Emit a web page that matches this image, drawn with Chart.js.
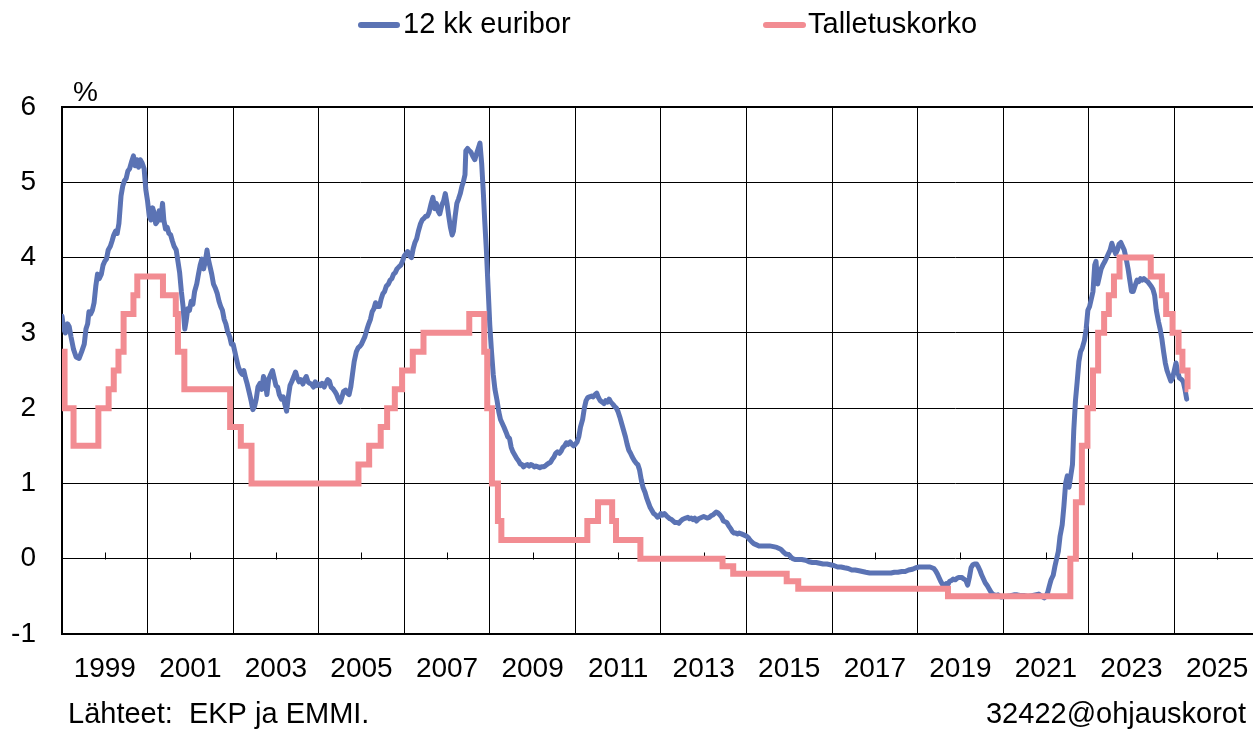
<!DOCTYPE html>
<html><head><meta charset="utf-8">
<script src="https://cdn.jsdelivr.net/npm/chart.js@4.4.1/dist/chart.umd.min.js"></script>
<style>html,body{margin:0;padding:0;background:#fff;overflow:hidden}canvas{display:block}</style>
</head><body>
<canvas id="c" width="1253" height="731"></canvas>
<script>
const seriesNames = ['12 kk euribor', 'Talletuskorko'];
const unitLabel = '%';
const sourceText = 'Lähteet:  EKP ja EMMI.';
const codeText = '32422@ohjauskorot';

// 12 kk euribor (decimal year, %)
const euriborTime = [
 1999.00,1999.04,1999.08,1999.13,1999.17,1999.21,1999.27,1999.33,1999.40,1999.46,1999.52,1999.56,1999.60,1999.63,1999.67,1999.71,1999.75,1999.79,1999.83,1999.87,1999.92,1999.96,
 2000.00,2000.04,2000.08,2000.13,2000.17,2000.21,2000.25,2000.29,2000.33,2000.38,2000.42,2000.46,2000.50,2000.54,2000.58,2000.63,2000.67,2000.71,2000.75,2000.79,2000.83,2000.87,2000.92,2000.96,
 2001.00,2001.04,2001.08,2001.12,2001.15,2001.19,2001.23,2001.27,2001.31,2001.35,2001.38,2001.42,2001.46,2001.50,2001.54,2001.58,2001.62,2001.67,2001.71,2001.75,2001.79,2001.83,2001.87,2001.90,2001.94,2001.98,
 2002.02,2002.06,2002.10,2002.15,2002.19,2002.23,2002.27,2002.31,2002.35,2002.39,2002.42,2002.46,2002.50,2002.54,2002.58,2002.63,2002.67,2002.71,2002.75,2002.79,2002.83,2002.87,2002.92,2002.96,
 2003.00,2003.04,2003.08,2003.12,2003.17,2003.21,2003.25,2003.29,2003.33,2003.38,2003.42,2003.46,2003.50,2003.54,2003.58,2003.63,2003.67,2003.71,2003.75,2003.79,2003.83,2003.88,2003.92,2003.96,
 2004.00,2004.04,2004.08,2004.13,2004.17,2004.21,2004.25,2004.29,2004.33,2004.37,2004.42,2004.46,2004.50,2004.54,2004.58,2004.63,2004.67,2004.71,2004.75,2004.79,2004.83,2004.88,2004.92,2004.96,
 2005.00,2005.04,2005.08,2005.13,2005.17,2005.21,2005.25,2005.29,2005.33,2005.38,2005.42,2005.46,2005.50,2005.54,2005.58,2005.63,2005.67,2005.71,2005.75,2005.79,2005.83,2005.88,2005.92,2005.96,
 2006.00,2006.04,2006.08,2006.13,2006.17,2006.21,2006.25,2006.29,2006.33,2006.38,2006.42,2006.46,2006.50,2006.54,2006.58,2006.63,2006.67,2006.71,2006.75,2006.79,2006.83,2006.88,2006.92,2006.96,
 2007.00,2007.04,2007.08,2007.13,2007.17,2007.21,2007.25,2007.29,2007.33,2007.38,2007.42,2007.46,2007.50,2007.54,2007.58,2007.63,2007.67,2007.71,2007.75,2007.79,2007.83,2007.88,2007.92,2007.96,
 2008.00,2008.04,2008.08,2008.12,2008.15,2008.19,2008.23,2008.27,2008.31,2008.35,2008.38,2008.42,2008.44,2008.48,2008.52,2008.56,2008.60,2008.65,2008.69,2008.73,2008.77,2008.81,2008.85,2008.88,2008.92,2008.96,
 2009.00,2009.04,2009.08,2009.12,2009.17,2009.21,2009.25,2009.29,2009.33,2009.38,2009.42,2009.46,2009.50,2009.54,2009.58,2009.63,2009.67,2009.71,2009.75,2009.79,2009.83,2009.88,2009.92,2009.96,
 2010.00,2010.04,2010.08,2010.13,2010.17,2010.21,2010.25,2010.29,2010.33,2010.38,2010.42,2010.46,2010.50,2010.54,2010.58,2010.63,2010.67,2010.71,2010.75,2010.79,2010.83,2010.88,2010.92,2010.96,
 2011.00,2011.04,2011.08,2011.12,2011.17,2011.21,2011.25,2011.29,2011.33,2011.38,2011.42,2011.46,2011.50,2011.54,2011.58,2011.63,2011.67,2011.71,2011.75,2011.79,2011.83,2011.88,2011.92,2011.96,
 2012.00,2012.04,2012.08,2012.13,2012.17,2012.21,2012.25,2012.29,2012.33,2012.38,2012.42,2012.46,2012.50,2012.54,2012.58,2012.63,2012.67,2012.71,2012.75,2012.79,2012.83,2012.88,2012.92,2012.96,
 2013.00,2013.04,2013.08,2013.13,2013.17,2013.21,2013.25,2013.29,2013.33,2013.38,2013.42,2013.46,2013.50,2013.54,2013.58,2013.63,2013.67,2013.71,2013.75,2013.79,2013.83,2013.88,2013.92,2013.96,
 2014.00,2014.04,2014.08,2014.13,2014.17,2014.21,2014.25,2014.29,2014.33,2014.38,2014.42,2014.46,2014.50,2014.54,2014.58,2014.63,2014.67,2014.71,2014.75,2014.79,2014.83,2014.88,2014.92,2014.96,
 2015.00,2015.04,2015.08,2015.13,2015.17,2015.21,2015.25,2015.29,2015.38,2015.46,2015.54,2015.63,2015.71,2015.79,2015.83,2015.88,2015.92,2015.96,
 2016.00,2016.04,2016.08,2016.13,2016.21,2016.29,2016.38,2016.46,2016.54,2016.63,2016.71,2016.79,2016.88,2016.96,
 2017.04,2017.13,2017.21,2017.29,2017.38,2017.46,2017.54,2017.63,2017.71,2017.79,2017.88,2017.96,
 2018.04,2018.13,2018.21,2018.29,2018.38,2018.46,2018.54,2018.63,2018.71,2018.79,2018.88,2018.96,
 2019.04,2019.13,2019.21,2019.29,2019.38,2019.42,2019.46,2019.50,2019.54,2019.58,2019.63,2019.67,2019.71,2019.75,2019.79,2019.83,2019.88,2019.92,2019.96,
 2020.00,2020.04,2020.08,2020.13,2020.17,2020.21,2020.25,2020.29,2020.33,2020.38,2020.42,2020.46,2020.50,2020.54,2020.58,2020.63,2020.67,2020.71,2020.75,2020.79,2020.83,2020.88,2020.92,2020.96,
 2021.08,2021.17,2021.25,2021.33,2021.42,2021.50,2021.58,2021.67,2021.75,2021.83,2021.90,2021.96,
 2022.00,2022.04,2022.08,2022.12,2022.17,2022.21,2022.25,2022.29,2022.33,2022.38,2022.42,2022.46,2022.50,2022.54,2022.58,2022.62,2022.65,2022.69,2022.73,2022.77,2022.81,2022.85,2022.90,2022.94,2022.98,
 2023.02,2023.06,2023.10,2023.14,2023.17,2023.21,2023.25,2023.29,2023.33,2023.38,2023.42,2023.46,2023.50,2023.54,2023.58,2023.63,2023.67,2023.71,2023.75,2023.79,2023.83,2023.87,2023.92,2023.96,
 2024.00,2024.04,2024.08,2024.13,2024.17,2024.21,2024.25,2024.29,2024.33,2024.38,2024.42,2024.46,2024.50,2024.54,2024.58,2024.63,2024.67,2024.71,2024.75,2024.79,2024.83,2024.88,2024.92,2024.96,
 2025.00,2025.04,2025.08,2025.12,2025.17,2025.21,2025.25,2025.29
];
const euriborValue = [
 3.22,3.05,3.00,3.12,3.08,2.95,2.78,2.68,2.66,2.75,2.85,3.05,3.12,3.28,3.25,3.30,3.40,3.62,3.78,3.72,3.78,3.90,
 3.95,3.98,4.10,4.15,4.22,4.30,4.35,4.32,4.45,4.82,4.95,5.02,5.05,5.15,5.18,5.28,5.35,5.22,5.30,5.20,5.30,5.26,5.18,4.90,
 4.75,4.55,4.50,4.66,4.60,4.45,4.48,4.62,4.50,4.72,4.50,4.38,4.40,4.32,4.30,4.22,4.15,4.10,3.95,3.80,3.55,3.35,3.05,3.15,3.32,3.30,
 3.42,3.38,3.55,3.65,3.78,3.90,3.98,3.85,3.95,4.10,3.98,3.88,3.78,3.65,3.60,3.52,3.42,3.35,3.30,3.18,3.12,3.02,2.95,2.85,
 2.85,2.75,2.65,2.55,2.48,2.45,2.50,2.40,2.32,2.20,2.10,1.98,2.02,2.12,2.28,2.33,2.25,2.42,2.36,2.18,2.38,2.45,2.50,2.40,
 2.30,2.28,2.18,2.12,2.15,2.05,1.96,2.15,2.30,2.35,2.42,2.48,2.40,2.35,2.38,2.32,2.38,2.42,2.35,2.33,2.32,2.28,2.35,2.30,
 2.32,2.30,2.33,2.28,2.33,2.38,2.36,2.28,2.26,2.22,2.18,2.12,2.08,2.14,2.22,2.24,2.20,2.18,2.28,2.45,2.62,2.75,2.80,2.82,
 2.85,2.90,2.95,3.05,3.12,3.18,3.28,3.32,3.40,3.35,3.35,3.45,3.52,3.55,3.62,3.65,3.70,3.72,3.78,3.80,3.85,3.88,3.90,3.95,
 4.02,4.05,4.08,4.02,4.00,4.12,4.20,4.25,4.35,4.45,4.50,4.52,4.55,4.55,4.60,4.72,4.80,4.65,4.72,4.62,4.58,4.70,4.75,4.85,
 4.72,4.55,4.40,4.30,4.35,4.55,4.72,4.78,4.85,4.95,5.00,5.10,5.42,5.45,5.42,5.40,5.35,5.30,5.38,5.45,5.52,5.25,4.85,4.50,4.10,3.60,
 3.10,2.75,2.45,2.25,2.10,1.95,1.85,1.80,1.75,1.68,1.62,1.60,1.48,1.42,1.38,1.33,1.30,1.26,1.25,1.22,1.24,1.25,1.23,1.25,
 1.24,1.22,1.23,1.22,1.21,1.22,1.22,1.23,1.25,1.27,1.28,1.32,1.35,1.40,1.42,1.40,1.43,1.48,1.50,1.54,1.52,1.55,1.52,1.50,
 1.52,1.55,1.62,1.75,1.85,2.00,2.10,2.14,2.15,2.16,2.15,2.18,2.20,2.14,2.10,2.08,2.06,2.10,2.08,2.12,2.08,2.05,2.02,2.00,
 1.95,1.88,1.80,1.70,1.62,1.52,1.44,1.40,1.35,1.30,1.27,1.25,1.18,1.05,0.95,0.88,0.80,0.74,0.68,0.64,0.60,0.58,0.55,0.56,
 0.60,0.58,0.60,0.57,0.55,0.53,0.52,0.50,0.48,0.48,0.47,0.50,0.52,0.53,0.54,0.55,0.53,0.54,0.52,0.54,0.50,0.53,0.54,0.55,
 0.56,0.55,0.54,0.55,0.57,0.58,0.60,0.62,0.61,0.58,0.55,0.50,0.49,0.48,0.44,0.40,0.36,0.34,0.34,0.33,0.34,0.33,0.32,0.31,
 0.30,0.28,0.25,0.22,0.20,0.19,0.18,0.17,0.17,0.17,0.17,0.16,0.15,0.13,0.11,0.08,0.06,0.06,
 0.05,0.02,0.00,-0.01,-0.01,-0.01,-0.02,-0.04,-0.05,-0.05,-0.06,-0.07,-0.07,-0.08,
 -0.09,-0.11,-0.11,-0.12,-0.13,-0.15,-0.15,-0.16,-0.17,-0.18,-0.19,-0.19,
 -0.19,-0.19,-0.19,-0.19,-0.19,-0.18,-0.18,-0.17,-0.17,-0.15,-0.14,-0.12,
 -0.11,-0.11,-0.11,-0.11,-0.13,-0.16,-0.20,-0.25,-0.30,-0.34,-0.36,-0.33,-0.34,-0.30,-0.29,-0.27,-0.28,-0.26,-0.25,
 -0.25,-0.25,-0.27,-0.29,-0.35,-0.25,-0.12,-0.08,-0.07,-0.07,-0.11,-0.16,-0.22,-0.27,-0.32,-0.36,-0.40,-0.44,-0.47,-0.48,-0.49,-0.48,-0.50,-0.51,
 -0.50,-0.49,-0.48,-0.48,-0.49,-0.49,-0.50,-0.49,-0.48,-0.47,-0.50,-0.52,
 -0.50,-0.45,-0.36,-0.28,-0.22,-0.10,0.00,0.10,0.30,0.45,0.70,1.00,1.10,0.95,1.10,1.25,1.70,2.10,2.35,2.62,2.75,2.80,2.90,3.05,3.30,
 3.35,3.45,3.55,3.90,3.95,3.65,3.75,3.85,3.90,3.95,4.00,4.05,4.10,4.19,4.12,4.05,4.10,4.18,4.20,4.15,4.10,4.00,3.85,3.70,
 3.55,3.55,3.62,3.70,3.68,3.72,3.70,3.72,3.70,3.68,3.65,3.62,3.58,3.50,3.30,3.15,3.05,2.92,2.75,2.60,2.50,2.42,2.36,2.40,
 2.50,2.60,2.48,2.40,2.38,2.35,2.25,2.12
];

// Talletuskorko: change dates (decimal year) and new rate (%)
const depositTime = [
 1999.00,1999.06,1999.27,1999.85,2000.09,2000.21,2000.32,2000.44,2000.67,2000.76,
 2001.36,2001.66,2001.71,2001.86,2002.93,2003.18,2003.43,
 2005.93,2006.18,2006.45,2006.60,2006.78,2006.95,2007.20,2007.45,
 2008.52,2008.87,2008.94,2009.05,2009.19,2009.27,
 2011.28,2011.53,2011.86,2011.95,2012.52,
 2014.44,2014.69,2015.94,2016.21,2019.71,
 2022.57,2022.70,2022.84,2022.97,2023.10,2023.22,2023.36,2023.47,2023.59,2023.72,
 2024.45,2024.71,2024.81,2024.96,2025.10,2025.19,2025.31,2025.33
];
const depositRate = [
 2.75,2.0,1.5,2.0,2.25,2.5,2.75,3.25,3.5,3.75,
 3.5,3.25,2.75,2.25,1.75,1.5,1.0,
 1.25,1.5,1.75,2.0,2.25,2.5,2.75,3.0,
 3.25,2.75,2.0,1.0,0.5,0.25,
 0.5,0.75,0.5,0.25,0.0,
 -0.1,-0.2,-0.3,-0.4,-0.5,
 0.0,0.75,1.5,2.0,2.5,3.0,3.25,3.5,3.75,4.0,
 3.75,3.5,3.25,3.0,2.75,2.5,2.25,2.25
];

const yTickValues = [-1,0,1,2,3,4,5,6];
const xTickYears = [1999,2000,2001,2002,2003,2004,2005,2006,2007,2008,2009,2010,2011,2012,2013,2014,2015,2016,2017,2018,2019,2020,2021,2022,2023,2024,2025,2026];
const xTickLabels = ['1999','2001','2003','2005','2007','2009','2011','2013','2015','2017','2019','2021','2023','2025'];

const blue = '#5b73b4';
const pink = '#f28c92';
const FONT = '"Liberation Sans", Arial, Helvetica, sans-serif';

const decorations = {
  id: 'decorations',
  beforeDatasetsDraw(chart) {
    const ctx = chart.ctx, xs = chart.scales.x, ys = chart.scales.y;
    ctx.save();
    ctx.strokeStyle = '#000'; ctx.lineWidth = 1;
    const y0 = Math.round(ys.getPixelForValue(0)) + 0.5;
    xTickYears.filter(v => v % 2 === 0).forEach(v => {
      const px = Math.round(xs.getPixelForValue(v)) + 0.5;
      ctx.beginPath(); ctx.moveTo(px, y0); ctx.lineTo(px, y0 - 7); ctx.stroke();
    });
    ctx.restore();
  },
  afterDraw(chart) {
    const ctx = chart.ctx;
    ctx.save();
    ctx.fillStyle = '#000';
    ctx.textBaseline = 'middle';
    const items = [
      {x1: 361, x2: 397, tx: 403, color: blue, label: chart.data.datasets[0].label},
      {x1: 766, x2: 803, tx: 808, color: pink, label: chart.data.datasets[1].label}
    ];
    items.forEach(it => {
      ctx.strokeStyle = it.color; ctx.lineWidth = 6; ctx.lineCap = 'round';
      ctx.beginPath(); ctx.moveTo(it.x1, 25); ctx.lineTo(it.x2, 25); ctx.stroke();
      ctx.font = '29px ' + FONT; ctx.textAlign = 'left';
      ctx.fillText(it.label, it.tx, 25);
    });
    ctx.font = '28px ' + FONT; ctx.textAlign = 'left';
    ctx.fillText(unitLabel, 73, 93);
    ctx.font = '29px ' + FONT;
    ctx.textAlign = 'left';
    ctx.fillText(sourceText, 68, 715);
    ctx.textAlign = 'right';
    ctx.fillText(codeText, 1246, 715);
    ctx.restore();
  }
};

new Chart(document.getElementById('c'), {
  type: 'line',
  data: {
    datasets: [
      {
        label: seriesNames[0],
        data: euriborTime.map((t, i) => ({x: t, y: euriborValue[i]})),
        borderColor: blue, borderWidth: 5, pointRadius: 0,
        borderJoinStyle: 'round', borderCapStyle: 'round',
        tension: 0, fill: false, order: 1
      },
      {
        label: seriesNames[1],
        data: depositTime.map((t, i) => ({x: t, y: depositRate[i]})),
        borderColor: pink, borderWidth: 6, pointRadius: 0,
        stepped: 'before', borderJoinStyle: 'miter', borderCapStyle: 'butt',
        fill: false, order: 0
      }
    ]
  },
  options: {
    responsive: false,
    animation: false,
    events: [],
    layout: {padding: {top: 107, left: 0, right: 0, bottom: 0}},
    plugins: {legend: {display: false}, tooltip: {enabled: false}, title: {display: false}},
    scales: {
      x: {
        type: 'linear', min: 1999, max: 2026.84,
        afterBuildTicks: (axis) => { axis.ticks = xTickYears.map(v => ({value: v})); },
        afterFit: (scale) => { scale.height = 97; scale.paddingLeft = 0; scale.paddingRight = 0; },
        grid: {
          drawTicks: false,
          color: (c) => (c.tick && c.tick.value % 2 === 1) ? '#000' : 'rgba(0,0,0,0)',
          lineWidth: 1
        },
        border: {display: true, color: '#000', width: 2},
        ticks: {
          autoSkip: false, maxRotation: 0, minRotation: 0, padding: 18,
          color: '#000', font: {family: FONT, size: 28},
          callback: (v) => (v % 2 === 0) ? xTickLabels[(v - 2000) / 2] : ''
        }
      },
      y: {
        min: -1, max: 6,
        afterBuildTicks: (axis) => { axis.ticks = yTickValues.map(v => ({value: v})); },
        afterFit: (scale) => { scale.width = 62; },
        grid: {
          drawTicks: false, color: '#000',
          lineWidth: (c) => (c.tick && (c.tick.value === 6 || c.tick.value === -1)) ? 2 : 1
        },
        border: {display: true, color: '#000', width: 2},
        ticks: {padding: 26, color: '#000', font: {family: FONT, size: 28}}
      }
    }
  },
  plugins: [decorations]
});
</script>
</body></html>
